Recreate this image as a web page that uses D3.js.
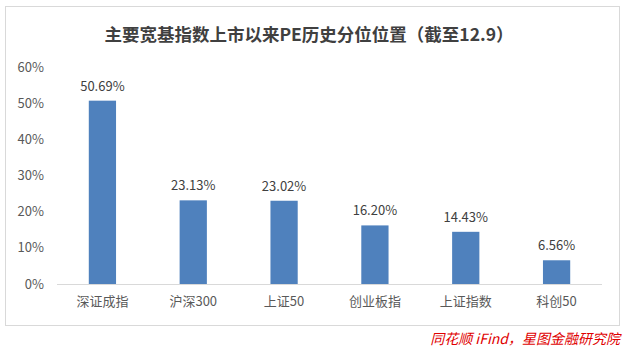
<!DOCTYPE html>
<html>
<head>
<meta charset="utf-8">
<script src="https://cdn.jsdelivr.net/npm/d3@7"></script>
<style>
  body { margin: 0; background: #fff; }
  text { font-family: "Noto Sans CJK SC", "Noto Sans", sans-serif; }
</style>
</head>
<body>
<div id="chart"></div>
<script>
const categories = ["深证成指", "沪深300", "上证50", "创业板指", "上证指数", "科创50"];
const values = [50.69, 23.13, 23.02, 16.20, 14.43, 6.56];
const yTicks = [0, 10, 20, 30, 40, 50, 60];

const width = 624;
const height = 354;

const svg = d3.select("#chart")
  .append("svg")
  .attr("width", width)
  .attr("height", height);

// chart frame
svg.append("rect")
  .attr("x", 5.5).attr("y", 6.5)
  .attr("width", 614).attr("height", 319)
  .attr("fill", "#fff")
  .attr("stroke", "#d9d9d9");

svg.append("text")
  .attr("x", 309).attr("y", 41)
  .attr("text-anchor", "middle")
  .attr("font-size", 17.5)
  .attr("font-weight", "bold")
  .attr("fill", "#404040")
  .text("主要宽基指数上市以来PE历史分位位置（截至12.9）");

const x = d3.scaleBand()
  .domain(categories)
  .range([57, 602])
  .paddingInner(0.7)
  .paddingOuter(0.35);

const y = d3.scaleLinear()
  .domain([0, 60])
  .range([284, 67]);

// y axis labels
svg.append("g")
  .selectAll("text")
  .data(yTicks)
  .join("text")
  .attr("x", 44)
  .attr("y", d => y(d))
  .attr("dy", "0.35em")
  .attr("text-anchor", "end")
  .attr("font-size", 13)
  .attr("fill", "#595959")
  .text(d => d + "%");

// bars
svg.append("g")
  .selectAll("rect")
  .data(values)
  .join("rect")
  .attr("x", (d, i) => x(categories[i]))
  .attr("y", d => y(d))
  .attr("width", x.bandwidth())
  .attr("height", d => y(0) - y(d))
  .attr("fill", "#4f81bd");

// baseline
svg.append("line")
  .attr("x1", 57).attr("x2", 602)
  .attr("y1", y(0) + 0.5).attr("y2", y(0) + 0.5)
  .attr("stroke", "#d9d9d9");

// value labels
svg.append("g")
  .selectAll("text")
  .data(values)
  .join("text")
  .attr("x", (d, i) => x(categories[i]) + x.bandwidth() / 2)
  .attr("y", d => y(d) - 10)
  .attr("text-anchor", "middle")
  .attr("font-size", 13)
  .attr("fill", "#404040")
  .text(d => d.toFixed(2) + "%");

// category labels
svg.append("g")
  .selectAll("text")
  .data(categories)
  .join("text")
  .attr("x", d => x(d) + x.bandwidth() / 2)
  .attr("y", 306)
  .attr("text-anchor", "middle")
  .attr("font-size", 13)
  .attr("fill", "#595959")
  .text(d => d);

// source
svg.append("text")
  .attr("x", 620).attr("y", 344)
  .attr("text-anchor", "end")
  .attr("font-size", 14)
  .attr("font-style", "italic")
  .attr("fill", "#e00000")
  .text("同花顺 iFind，星图金融研究院");
</script>
</body>
</html>
